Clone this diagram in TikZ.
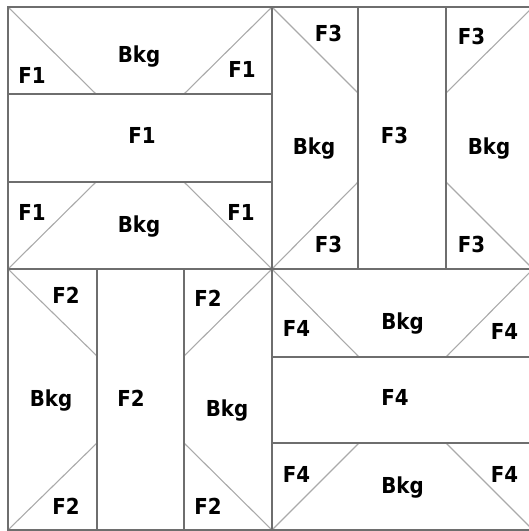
\documentclass[tikz,border=0pt]{standalone}
\usepackage{fontspec}
\setmainfont{DejaVu Sans}[FakeStretch=0.9]
\definecolor{edgegray}{RGB}{110,110,110}
\definecolor{diaggray}{RGB}{170,170,170}
\tikzset{
  seam/.style={draw=edgegray, line width=1.1pt},
  diag/.style={draw=diaggray, line width=1.1pt},
  lbl/.style={anchor=base, inner sep=0pt, font=\fontsize{22}{26}\selectfont\bfseries, text=black}
}
\begin{document}
\begin{tikzpicture}[x=1pt,y=-1pt]
\useasboundingbox (0,0) rectangle (529,531);
% key coordinates
\coordinate (TL) at (8,7);
\coordinate (BR) at (533,530);
% ---- top-left quadrant (F1)
\draw[diag] (8,7) -- (96,94);
\draw[diag] (272,7) -- (184,94);
\draw[diag] (96,182) -- (8,269);
\draw[diag] (184,182) -- (272,269);
\draw[seam] (8,94) -- (272,94);
\draw[seam] (8,182) -- (272,182);
% ---- top-right quadrant (F3)
\draw[diag] (272,7) -- (358,93);
\draw[diag] (446,93) -- (533,7);
\draw[diag] (358,182) -- (272,269);
\draw[diag] (446,182) -- (533,269);
\draw[seam] (358,7) -- (358,269);
\draw[seam] (446,7) -- (446,269);
% ---- bottom-left quadrant (F2)
\draw[diag] (8,269) -- (97,356);
\draw[diag] (184,356) -- (272,269);
\draw[diag] (97,443) -- (8,530);
\draw[diag] (184,443) -- (272,530);
\draw[seam] (97,269) -- (97,530);
\draw[seam] (184,269) -- (184,530);
% ---- bottom-right quadrant (F4)
\draw[diag] (272,269) -- (359,357);
\draw[diag] (446,357) -- (533,269);
\draw[diag] (272,530) -- (359,443);
\draw[diag] (446,443) -- (533,530);
\draw[seam] (272,357) -- (533,357);
\draw[seam] (272,443) -- (533,443);
% ---- cross and border
\draw[seam] (272,7) -- (272,530);
\draw[seam] (8,269) -- (533,269);
\draw[seam] (TL) rectangle (BR);
% ---- labels: F1
\node[lbl] (a1) at (32,83) {F1};
\node[lbl] (a2) at (139,62) {Bkg};
\node[lbl] (a3) at (242,77) {F1};
\node[lbl] (a4) at (142,143) {F1};
\node[lbl] (a5) at (32,220) {F1};
\node[lbl] (a6) at (139,232) {Bkg};
\node[lbl] (a7) at (241,220) {F1};
% ---- labels: F3
\node[lbl] (b1) at (328.5,41) {F3};
\node[lbl] (b2) at (471.5,44) {F3};
\node[lbl] (b3) at (314,154) {Bkg};
\node[lbl] (b4) at (394.5,143) {F3};
\node[lbl] (b5) at (489,154) {Bkg};
\node[lbl] (b6) at (328.5,252) {F3};
\node[lbl] (b7) at (471.5,252) {F3};
% ---- labels: F2
\node[lbl] (c1) at (66,303) {F2};
\node[lbl] (c2) at (208,306) {F2};
\node[lbl] (c3) at (51,406) {Bkg};
\node[lbl] (c4) at (131,406) {F2};
\node[lbl] (c5) at (227,416) {Bkg};
\node[lbl] (c6) at (66,514) {F2};
\node[lbl] (c7) at (208,514) {F2};
% ---- labels: F4
\node[lbl] (d1) at (296.5,336) {F4};
\node[lbl] (d2) at (402.5,329) {Bkg};
\node[lbl] (d3) at (504.5,339) {F4};
\node[lbl] (d4) at (395,405) {F4};
\node[lbl] (d5) at (296.5,482) {F4};
\node[lbl] (d6) at (402.5,493) {Bkg};
\node[lbl] (d7) at (504.5,482) {F4};
\end{tikzpicture}
\end{document}
